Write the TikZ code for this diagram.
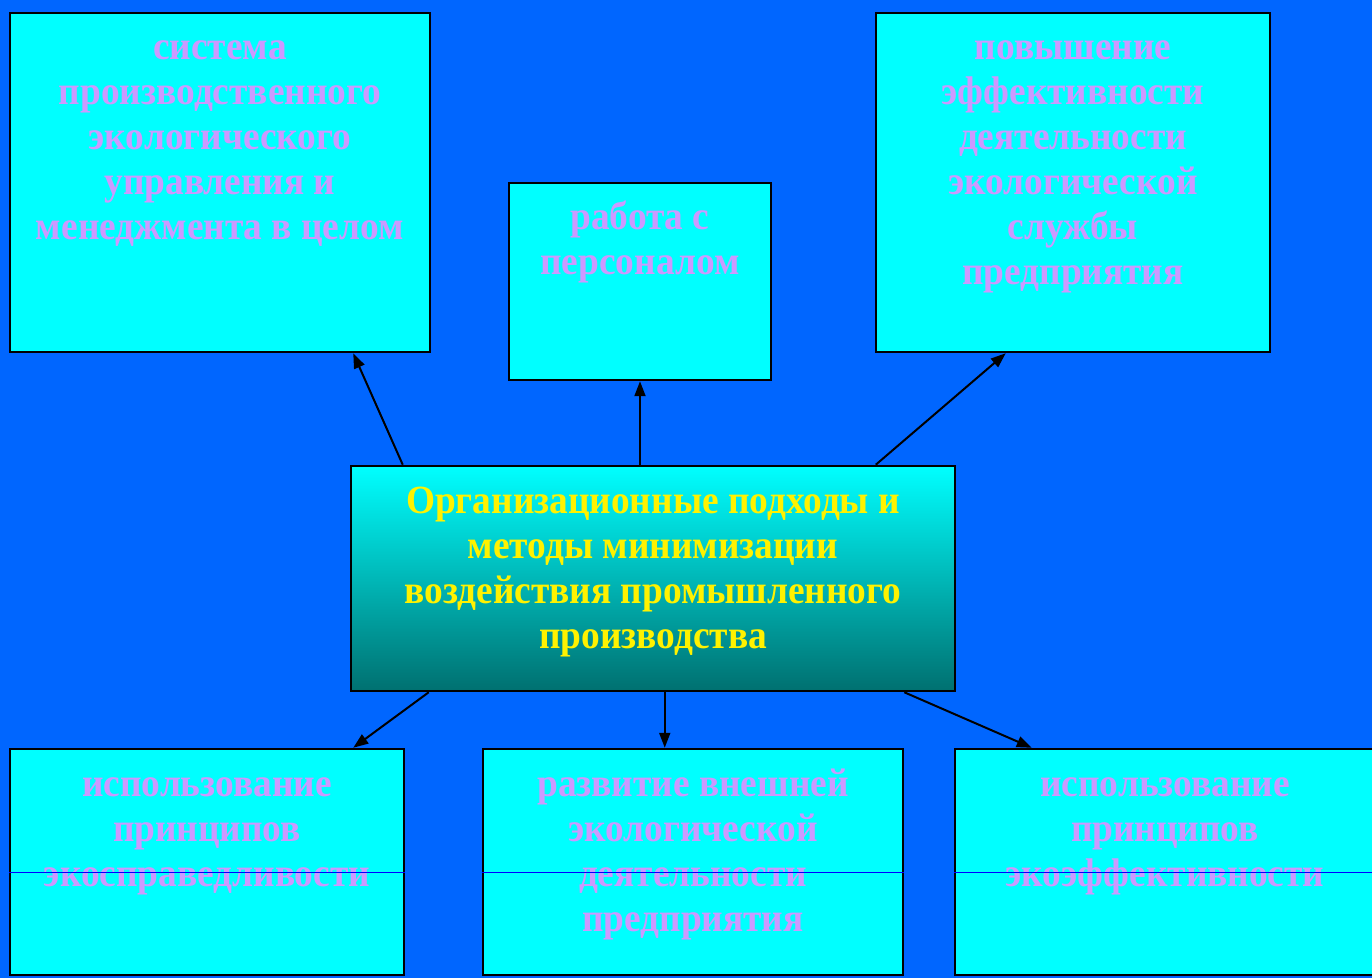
\documentclass[tikz,border=0pt]{standalone}
\usepackage{fontspec}
\setmainfont[FakeStretch=0.934]{Liberation Serif}
\usetikzlibrary{arrows.meta}
\definecolor{slideblue}{HTML}{0066FF}
\definecolor{boxcyan}{HTML}{00FFFF}
\definecolor{lilac}{HTML}{CC99FF}
\definecolor{darkteal}{HTML}{007070}
% text set from the top of a box: width, height, lines
\newcommand{\boxtext}[3]{\parbox[c][#2][t]{#1}{\centering\bfseries\fontsize{20pt}{22.5pt}\selectfont\rule{0pt}{23.5pt}#3}}
\tikzset{
	box/.style={draw=black, line width=1.25pt, fill=boxcyan, text=lilac, inner sep=0pt},
	link/.style={-{Triangle[length=7.5pt,width=5.5pt]}, line width=1pt},
}
\begin{document}
\begin{tikzpicture}[x=0.5pt, y=-0.5pt]
		\fill[slideblue] (0,0) rectangle (1372,978);
		\useasboundingbox (0,0) rectangle (1372,978);
		% upper row
		\node[box] (sys) at (220,182.5) {\boxtext{210pt}{169.5pt}{система\\ производственного\\ экологического\\ управления и\\ менеджмента в целом}};
		\node[box] (staff) at (640,281.5) {\boxtext{131pt}{98.5pt}{работа с\\ персоналом}};
		\node[box] (serv) at (1073,182.5) {\boxtext{197pt}{169.5pt}{повышение\\ эффективности\\ деятельности\\ экологической\\ службы\\ предприятия}};
		% centre
		\node[box, top color=boxcyan, bottom color=darkteal, text=yellow] (main) at (653,578.5) {\boxtext{302pt}{112.5pt}{Организационные подходы и\\ методы минимизации\\ воздействия промышленного\\ производства}};
		% lower row
		\node[box] (just) at (207,862) {\boxtext{197pt}{113pt}{использование\\ принципов\\ экосправедливости}};
		\node[box] (outer) at (693,862) {\boxtext{210pt}{113pt}{развитие внешней\\ экологической\\ деятельности\\ предприятия}};
		\node[box] (eff) at (1165,862) {\boxtext{210pt}{113pt}{использование\\ принципов\\ экоэффективности}};
		\foreach \b in {just, outer, eff}
			\draw[blue, line width=0.4pt] ([yshift=-62.5pt]\b.north west) -- ([yshift=-62.5pt]\b.north east);
		% arrows
		\draw[link] ([xshift=26.5pt]main.north west) -- ([xshift=-39pt]sys.south east);
		\draw[link] (main.north -| staff.south) -- (staff.south);
		\draw[link] ([xshift=263pt]main.north west) -- ([xshift=65.5pt]serv.south west);
		\draw[link] ([xshift=39.5pt]main.south west) -- ([xshift=-26pt]just.north east);
		\draw[link] ([xshift=157.5pt]main.south west) -- ([xshift=91.5pt]outer.north west);
		\draw[link] ([xshift=-26pt]main.south east) -- ([xshift=39pt]eff.north west);
	\end{tikzpicture}
\end{document}
